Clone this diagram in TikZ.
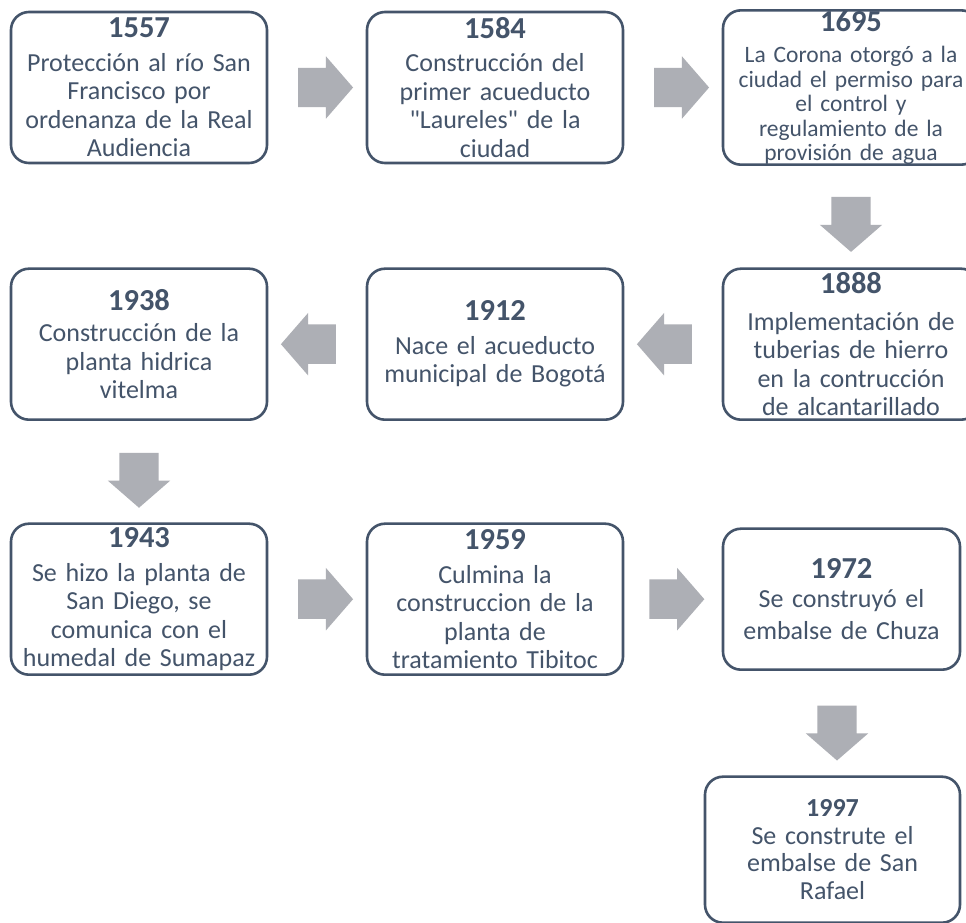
\documentclass[tikz,border=0pt]{standalone}
\usepackage{fontspec}
\setmainfont{Carlito}
\usepackage{xcolor}
\usetikzlibrary{positioning,calc,shapes.arrows}
\definecolor{cSlate}{HTML}{44546A}
\definecolor{cArrow}{HTML}{ADAFB5}
\newcommand{\yr}[2][30.5]{{\fontsize{#1}{34}\selectfont\bfseries #2}}

\begin{document}
\begin{tikzpicture}[
    x=1pt, y=1pt,
    evt/.style={rectangle, rounded corners=18pt, draw=cSlate, line width=2.6pt, fill=white,
      text=cSlate, minimum width=256pt, minimum height=151pt, text width=250pt,
      align=center, inner xsep=2pt, inner ysep=0pt, outer sep=0pt,
      font=\fontsize{26}{28.5}\selectfont},
    blockarr/.style={single arrow, draw=none, fill=cArrow, inner xsep=0pt, inner ysep=19.5pt,
      minimum height=55pt, single arrow head extend=11.5pt, single arrow tip angle=98},
    node distance=104pt and 100pt]

  \useasboundingbox (0,0) rectangle (966,-922);
  \fill[white] (0,0) rectangle (966,-922);
  \clip (0,0) rectangle (966,-922);

  % first row, left to right
  \node[evt] (e1557) at (139,-87.5)
    {\yr{1557}\\[5pt] Protección al río San\\ Francisco por\\ ordenanza de la Real\\ Audiencia};
  \node[evt, right=of e1557] (e1584)
    {\yr{1584}\\[5pt] Construcción del\\ primer acueducto\\ \textquotedbl Laureles\textquotedbl{} de la\\ ciudad};
  \node[evt, right=of e1584, font=\fontsize{23.5}{24.5}\selectfont] (e1695)
    {\yr{1695}\\[7pt] La Corona otorgó a la\\ ciudad el permiso para\\ el control y\\ regulamiento de la\\ provisión de agua};

  % second row, right to left
  \node[evt, below=of e1695] (e1888)
    {\yr{1888}\\[8pt] Implementación de\\ tuberias de hierro\\ en la contrucción\\ de alcantarillado};
  \node[evt, left=of e1888] (e1912)
    {\yr{1912}\\[5pt] Nace el acueducto\\ municipal de Bogotá};
  \node[evt, left=of e1912] (e1938)
    {\yr{1938}\\[3pt] Construcción de la\\ planta hidrica\\ vitelma};

  % third row, left to right
  \node[evt, below=of e1938] (e1943)
    {\yr{1943}\\[5pt] Se hizo la planta de\\ San Diego, se\\ comunica con el\\ humedal de Sumapaz};
  \node[evt, right=of e1943] (e1959)
    {\yr{1959}\\[5pt] Culmina la\\ construccion de la\\ planta de\\ tratamiento Tibitoc};
  \node[evt, right=of e1959, minimum width=237pt, minimum height=141pt, text width=231pt] (e1972)
    {\yr{1972}\\ Se construyó el\\[4pt] embalse de Chuza};
  \node[evt, below=107pt of e1972, xshift=-9pt, minimum width=255pt, minimum height=146pt,
    text width=249pt, font=\fontsize{26}{27.5}\selectfont] (e1997)
    {\yr[26]{1997}\\ Se construte el\\ embalse de San\\ Rafael};

  % block arrows between the events
  \node[blockarr] (a1) at ($(e1557)!.5!(e1584)$) {};
  \node[blockarr] (a2) at ($(e1584)!.5!(e1695)$) {};
  \node[blockarr, rotate=-90] (a3) at ($(e1695)!.5!(e1888)$) {};
  \node[blockarr, rotate=180] (a4) at ($(e1888)!.5!(e1912)$) {};
  \node[blockarr, rotate=180] (a5) at ($(e1912)!.5!(e1938)$) {};
  \node[blockarr, rotate=-90] (a6) at ($(e1938)!.5!(e1943)$) {};
  \node[blockarr] (a7) at ($(e1943)!.5!(e1959)$) {};
  \node[blockarr] (a8) at ($(e1959)!.5!(e1972)$) {};
  \node[blockarr, rotate=-90] (a9) at ($(e1972)!.5!(e1997)$) {};
\end{tikzpicture}
\end{document}
